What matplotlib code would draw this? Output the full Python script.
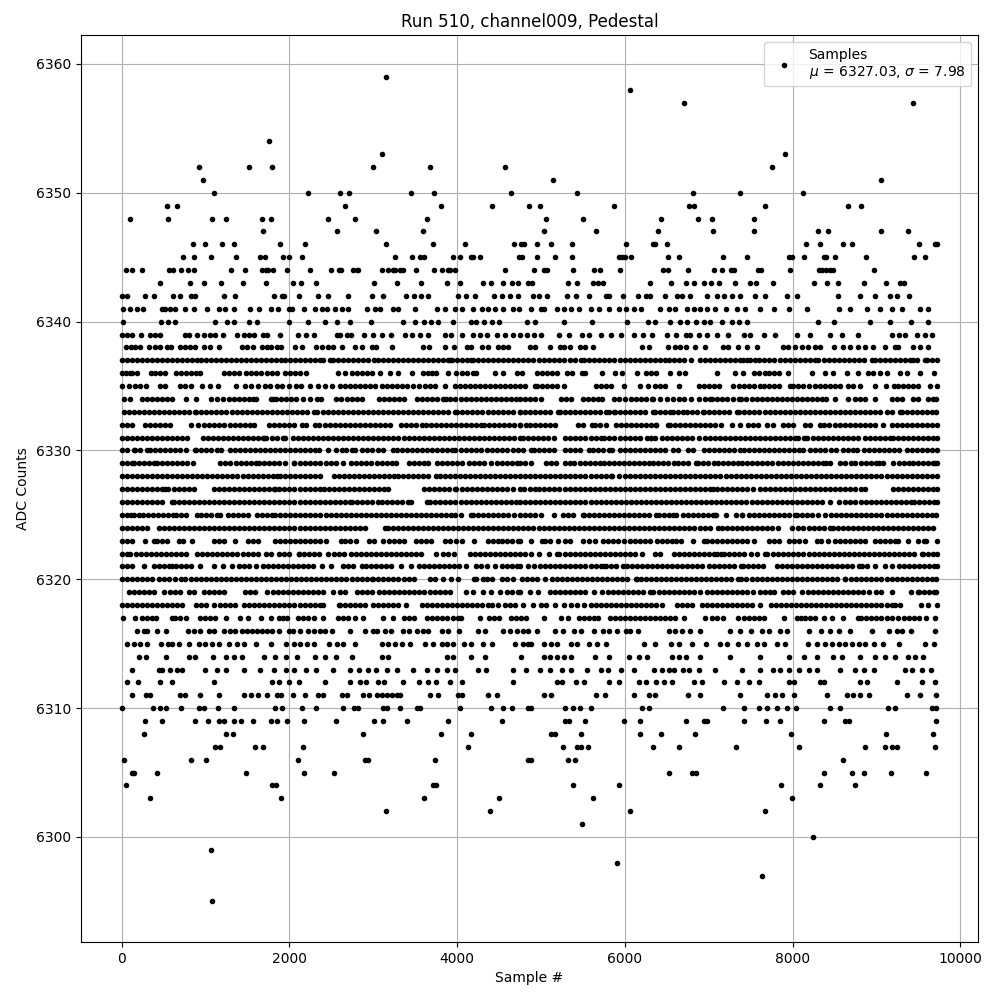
import matplotlib
matplotlib.use("Agg")
import matplotlib.pyplot as plt

# ADC values, one list of sample numbers per count level

s6359 = [3156]
s6358 = [6060]
s6357 = [6705, 9434]
s6354 = [1751]
s6353 = [3108, 7906]
s6352 = [917, 1513, 1786, 3001, 3680, 4573, 7752]
s6351 = [965, 5142, 9049]
s6350 = [1096, 2227, 2608, 2715, 3454, 3728, 4645, 5428, 6810, 7370, 8120]
s6349 = [536, 655, 2668, 3811, 4419, 4851, 4988, 5869, 6762, 6822, 7667, 8656, 8811]
s6348 = [95, 548, 1072, 1239, 1668, 1775, 2465, 2787, 3644, 5059, 5500, 6429, 6869, 7036, 7536]
s6347 = [1679, 2561, 3037, 3597, 5035, 5655, 6393, 7048, 7536, 8299, 8418, 9049, 9371]
s6346 = [846, 988, 1191, 1334, 1882, 2191, 3156, 3716, 4097, 4680, 4764, 4800, 4952, 5119, 5369, 6012,
         6333, 6357, 6500, 8156, 8322, 8596, 8704, 9513, 9704, 9728]
s6345 = [726, 857, 1060, 1358, 1644, 1703, 1918, 1989, 2144, 3263, 3466, 3561, 3609, 3954, 4038, 4169,
         4193, 4276, 4740, 4776, 4952, 5166, 5369, 5929, 5964, 6000, 6071, 6512, 6643, 7167, 7453, 7953,
         7989, 8132, 8370, 8394, 8501, 8870, 9442, 9573]
s6344 = [48, 119, 238, 560, 607, 703, 786, 857, 1298, 1465, 1668, 1715, 1739, 1798, 1965, 2239, 2501, 2596,
         2620, 2763, 2811, 2823, 3108, 3180, 3240, 3263, 3323, 3359, 3513, 3728, 3823, 3895, 3919, 3978,
         4573, 4916, 5035, 5071, 5381, 5631, 5702, 5940, 6452, 6512, 6750, 7060, 7155, 7262, 7298, 7584,
         7620, 7965, 8310, 8346, 8394, 8441, 8477, 8966]
s6343 = [453, 814, 977, 1179, 1441, 1715, 2037, 2132, 2322, 3013, 3287, 3573, 3883, 4037, 4303, 4407, 4550,
         4657, 4728, 4847, 4892, 5321, 5428, 5619, 5680, 5742, 6298, 6548, 6726, 6822, 6941, 7024, 7120,
         7318, 7489, 7560, 7763, 8251, 8406, 8537, 8846, 9108, 9275, 9323]
s6342 = [4, 64, 274, 381, 607, 691, 830, 877, 1215, 1346, 1810, 1909, 1929, 2108, 2346, 2465, 2704, 2982,
         3120, 3394, 3490, 3573, 3656, 4014, 4109, 4216, 4442, 4538, 4629, 4728, 4908, 4976, 5071, 5313,
         5416, 5571, 5770, 5810, 5976, 6155, 6246, 6298, 6484, 6623, 6683, 6782, 6981, 7100, 7179, 7278,
         7378, 7556, 7675, 7929, 8052, 8537, 8799, 8985, 9156, 9251, 9386]
s6341 = [12, 95, 183, 254, 480, 520, 580, 639, 758, 857, 1016, 1159, 1235, 1334, 1532, 1632, 1775, 1858,
         1989, 2029, 2168, 2307, 2386, 2446, 2545, 2624, 2704, 2922, 3021, 3081, 3240, 3299, 3498, 3756,
         3855, 3974, 4053, 4193, 4292, 4371, 4450, 4550, 4661, 4740, 4876, 4996, 5035, 5194, 5273, 5353,
         5452, 5591, 5690, 5809, 5929, 6008, 6107, 6187, 6417, 6524, 6603, 6742, 6822, 6901, 6981, 7080,
         7207, 7338, 7437, 7616, 7775, 7953, 8172, 8557, 8680, 8886, 9045, 9184, 9303, 9521, 9620]
s6340 = [12, 464, 548, 631, 1116, 1255, 1334, 1513, 1612, 1989, 2227, 2418, 2565, 2716, 2970, 3359, 3502,
         3609, 3692, 3772, 3954, 4161, 4228, 4323, 4411, 4502, 4828, 4928, 5273, 5603, 6028, 6274, 6357,
         6536, 6663, 6742, 6854, 6941, 7012, 7155, 7278, 7358, 7457, 8299, 8490, 8918, 9164, 9414, 9620]
s6339 = [4, 64, 123, 226, 333, 401, 453, 758, 798, 897, 977, 1056, 1116, 1207, 1374, 1453, 1513, 1572,
         1683, 1731, 1890, 2096, 2192, 2287, 2565, 2604, 2684, 2732, 2890, 3001, 3100, 3215, 3378, 3458,
         3557, 3656, 3851, 3930, 4053, 4193, 4272, 4351, 4470, 4570, 4669, 4748, 4828, 4916, 4996, 5214,
         5333, 5492, 5571, 5710, 5829, 5948, 6107, 6214, 6326, 6504, 6611, 6723, 6782, 6881, 6981, 7100,
         7227, 7417, 7497, 7655, 7794, 8052, 8211, 8449, 8588, 8775, 9184, 9263, 9343, 9482, 9581, 9660]
s6338 = [56, 111, 163, 214, 322, 401, 453, 540, 588, 699, 758, 818, 877, 985, 1048, 1155, 1433, 1493, 1564,
         1671, 1731, 1779, 1850, 1898, 2068, 2148, 2318, 2386, 2465, 2525, 2624, 2783, 2862, 2981, 3033,
         3220, 3597, 3668, 3855, 3962, 4113, 4161, 4292, 4371, 4490, 4550, 4609, 4873, 4932, 5103, 5230,
         5270, 5349, 5468, 5528, 5619, 6202, 6282, 6520, 6599, 6659, 6730, 6838, 6957, 7175, 7235, 7354,
         7453, 7580, 7890, 7949, 8029, 8108, 8187, 8267, 8326, 8497, 8604, 8684, 8783, 8862, 8962, 9101,
         9220, 9259, 9438, 9517, 9617]
s6337 = [0, 58, 120, 178, 240, 300, 358, 420, 480, 538, 600, 660, 718, 780, 840, 900, 940, 1000, 1060, 1120,
         1178, 1240, 1300, 1360, 1418, 1480, 1540, 1600, 1658, 1720, 1780, 1840, 1898, 1950, 2010, 2070, 2130,
         2190, 2250, 2310, 2360, 2400, 2480, 2520, 2580, 2640, 2700, 2760, 2820, 2880, 2940, 3010, 3050, 3110,
         3170, 3230, 3290, 3350, 3410, 3470, 3530, 3590, 3650, 3710, 3770, 3830, 3890, 3920, 3940, 4000, 4060,
         4120, 4160, 4190, 4250, 4310, 4370, 4430, 4490, 4550, 4610, 4670, 4730, 4790, 4850, 4910, 4970, 5030,
         5090, 5150, 5210, 5270, 5349, 5400, 5480, 5516, 5576, 5636, 5696, 5756, 5816, 5876, 5936, 5996, 6056,
         6116, 6176, 6236, 6296, 6356, 6416, 6476, 6528, 6588, 6648, 6708, 6790, 6890, 6950, 7010, 7070, 7130,
         7190, 7250, 7310, 7374, 7405, 7453, 7493, 7552, 7604, 7664, 7724, 7784, 7844, 7904, 7964, 8024, 8084,
         8144, 8204, 8267, 8306, 8374, 8437, 8497, 8557, 8617, 8677, 8737, 8797, 8857, 8942, 8981, 9041, 9101,
         9161, 9221, 9281, 9341, 9401, 9438, 9478, 9577, 9605, 9665, 9728]
s6336 = [0, 56, 95, 124, 183, 345, 400, 460, 520, 650, 710, 770, 830, 885, 937, 1223, 1280, 1340, 1400, 1480,
         1540, 1600, 1660, 1730, 1790, 1855, 1950, 2006, 2068, 2130, 2200, 2580, 2664, 2745, 2800, 2860, 2920,
         2980, 3080, 3201, 3300, 3465, 3590, 3650, 3695, 3750, 3890, 3990, 4060, 4120, 4190, 4230, 4455, 4550,
         4710, 4773, 4953, 5013, 5073, 5133, 5193, 5310, 5370, 5487, 5527, 5726, 5885, 5963, 6143, 6253, 6314,
         6367, 6540, 6640, 6719, 7095, 7314, 7406, 7545, 7605, 7670, 7720, 7780, 7840, 7948, 8227, 8386, 8476,
         8643, 8783, 8900, 8960, 9040, 9120, 9280, 9370, 9518, 9689]
s6335 = [4, 83, 163, 222, 284, 453, 520, 691, 758, 830, 953, 1056, 1143, 1358, 1473, 1540, 1624, 1711,
         1770, 1850, 1910, 2000, 2080, 2142, 2250, 2336, 2420, 2510, 2604, 2664, 2724, 2784, 2844, 2904, 2964,
         3024, 3100, 3160, 3220, 3280, 3340, 3400, 3470, 3550, 3620, 3680, 3735, 3855, 3975, 4035, 4095, 4155,
         4215, 4275, 4335, 4395, 4455, 4515, 4575, 4635, 4695, 4748, 4813, 4931, 4952, 5012, 5072, 5132, 5192,
         5268, 5658, 5718, 5778, 5838, 5984, 6180, 6270, 6361, 6420, 6480, 6640, 6880, 6940, 7000, 7060, 7122,
         7295, 7355, 7415, 7475, 7535, 7612, 7660, 7720, 7780, 7840, 7968, 8000, 8060, 8127, 8200, 8265, 8325,
         8385, 8445, 8505, 8565, 8664, 8723, 8800, 8980, 9115, 9205, 9260, 9320, 9380, 9440, 9500, 9635, 9722]
s6334 = [24, 95, 242, 302, 362, 422, 482, 542, 602, 770, 890, 1064, 1130, 1210, 1275, 1340, 1400, 1460, 1520,
         1563, 1601, 1780, 1840, 1900, 1803, 1960, 2020, 2080, 2160, 2250, 2330, 2382, 2553, 2616, 2690, 2750,
         2810, 2862, 3070, 3130, 3190, 3250, 3310, 3370, 3515, 3575, 3635, 3695, 3760, 3830, 3870, 3920, 3980,
         4040, 4100, 4160, 4220, 4280, 4340, 4400, 4460, 4520, 4580, 4640, 4700, 4750, 4813, 4873, 4933, 5000,
         5240, 5300, 5360, 5500, 5560, 5620, 5680, 5732, 5865, 5931, 6000, 6070, 6130, 6190, 6250, 6320, 6340,
         6420, 6500, 6570, 6640, 6700, 6790, 6880, 6950, 7010, 7040, 7100, 7160, 7220, 7290, 7360, 7390, 7450,
         7510, 7570, 7630, 7690, 7750, 7810, 7870, 7930, 7998, 8050, 8110, 8170, 8230, 8290, 8350, 8400, 8505,
         8662, 8740, 8800, 8860, 8985, 9190, 9250, 9310, 9430, 9490, 9610, 9670, 9716]
s6333 = [24, 84, 144, 204, 264, 324, 384, 444, 504, 564, 624, 684, 744, 804, 877, 889, 949, 1009, 1069, 1129,
         1189, 1249, 1309, 1369, 1429, 1489, 1549, 1609, 1669, 1729, 1789, 1849, 1909, 1969, 2029, 2089, 2149,
         2209, 2287, 2334, 2394, 2454, 2514, 2574, 2634, 2694, 2754, 2814, 2874, 2934, 2994, 3054, 3114, 3174,
         3234, 3294, 3354, 3414, 3474, 3534, 3594, 3654, 3714, 3774, 3834, 3894, 3974, 4002, 4062, 4122, 4182,
         4242, 4302, 4362, 4422, 4482, 4542, 4602, 4662, 4748, 4753, 4813, 4873, 4933, 4983, 5051, 5111, 5198,
         5229, 5289, 5349, 5409, 5469, 5529, 5589, 5649, 5709, 5777, 5805, 5865, 5885, 5945, 6005, 6065, 6125,
         6185, 6245, 6333, 6361, 6421, 6481, 6540, 6571, 6639, 6690, 6738, 6798, 6858, 6929, 6944, 7004, 7064,
         7124, 7184, 7244, 7334, 7365, 7425, 7485, 7545, 7605, 7665, 7725, 7785, 7845, 7905, 7965, 8025, 8085,
         8145, 8205, 8265, 8325, 8385, 8445, 8505, 8565, 8625, 8685, 8745, 8805, 8865, 8925, 8985, 9041, 9120,
         9180, 9279, 9299, 9359, 9419, 9479, 9539, 9599, 9659, 9716]
s6332 = [4, 64, 124, 282, 332, 392, 452, 512, 577, 820, 905, 985, 1045, 1105, 1165, 1225, 1285, 1345, 1405,
         1465, 1525, 1577, 1750, 1810, 1870, 1930, 1990, 2050, 2148, 2200, 2300, 2358, 2418, 2478, 2538, 2598,
         2658, 2718, 2778, 2838, 2898, 2958, 3018, 3078, 3138, 3200, 3330, 3390, 3450, 3510, 3575, 3625, 3685,
         3745, 3805, 3865, 3925, 3985, 4045, 4105, 4165, 4225, 4283, 4315, 4375, 4435, 4495, 4555, 4615, 4675,
         4748, 4753, 4823, 4872, 4932, 4992, 5052, 5112, 5168, 5436, 5496, 5603, 5646, 5706, 5777, 5896, 5956,
         6016, 6076, 6136, 6196, 6256, 6316, 6371, 6373, 6509, 6540, 6600, 6660, 6720, 6780, 6840, 6900, 6960,
         7020, 7080, 7146, 7274, 7374, 7472, 7532, 7592, 7690, 7770, 7890, 7950, 8010, 8146, 8206, 8326, 8380,
         8440, 8500, 8560, 8620, 8680, 8740, 8800, 8860, 8920, 8980, 9080, 9180, 9240, 9300, 9360, 9420, 9480,
         9540, 9600, 9660, 9720]
s6331 = [0, 60, 120, 180, 240, 300, 360, 420, 480, 540, 600, 660, 720, 780, 970, 1030, 1090, 1150, 1210, 1270,
         1330, 1390, 1450, 1510, 1570, 1630, 1690, 1692, 1720, 1790, 1850, 1920, 1950, 2040, 2100, 2160, 2220,
         2280, 2340, 2400, 2460, 2520, 2580, 2640, 2700, 2760, 2820, 2880, 2940, 3000, 3060, 3120, 3180, 3240,
         3300, 3360, 3420, 3480, 3540, 3600, 3660, 3720, 3780, 3840, 3900, 3960, 4020, 4080, 4140, 4200, 4260,
         4320, 4380, 4440, 4500, 4560, 4620, 4680, 4748, 4790, 4850, 4900, 4960, 5020, 5080, 5160, 5290, 5350,
         5410, 5470, 5530, 5590, 5650, 5710, 5750, 5810, 5870, 5945, 6003, 6063, 6123, 6183, 6309, 6269, 6309,
         6361, 6441, 6501, 6561, 6621, 6681, 6743, 6800, 6880, 6950, 7010, 7070, 7130, 7190, 7250, 7310, 7370,
         7430, 7490, 7550, 7610, 7670, 7730, 7790, 7850, 7910, 7970, 8030, 8070, 8140, 8170, 8240, 8300, 8360,
         8420, 8480, 8540, 8600, 8660, 8720, 8780, 8860, 8920, 8980, 9040, 9100, 9160, 9200, 9260, 9320, 9380,
         9440, 9500, 9560, 9620, 9680, 9727]
s6330 = [4, 64, 143, 163, 222, 300, 340, 400, 460, 520, 580, 640, 700, 770, 870, 890, 950, 1010, 1070, 1130,
         1183, 1290, 1350, 1410, 1470, 1530, 1590, 1650, 1710, 1770, 1830, 1890, 1950, 2010, 2070, 2130, 2190,
         2250, 2310, 2350, 2456, 2553, 2624, 2680, 2740, 2784, 2870, 2930, 2990, 3050, 3110, 3230, 3280, 3340,
         3400, 3460, 3520, 3580, 3640, 3700, 3760, 3820, 3880, 3940, 3970, 4040, 4100, 4160, 4230, 4290, 4350,
         4410, 4470, 4530, 4590, 4660, 4720, 4790, 4880, 4920, 4980, 5040, 5100, 5160, 5290, 5340, 5400,
         5470, 5570, 5620, 5680, 5740, 5810, 5850, 5940, 6000, 6060, 6120, 6180, 6240, 6300, 6360, 6420, 6480,
         6570, 6630, 6750, 6810, 6940, 7000, 7060, 7120, 7180, 7240, 7300, 7370, 7420, 7480, 7540, 7600, 7660,
         7720, 7780, 7840, 7900, 7960, 8020, 8080, 8130, 8210, 8270, 8330, 8390, 8460, 8520, 8600, 8660, 8720,
         8770, 8850, 8910, 8970, 9030, 9090, 9150, 9210, 9270, 9360, 9420, 9480, 9540, 9600, 9660, 9720]
s6329 = [0, 60, 120, 150, 210, 270, 330, 385, 420, 480, 540, 600, 660, 720, 780, 850, 1175, 1235, 1295, 1360,
         1420, 1480, 1540, 1600, 1640, 1700, 1760, 1820, 1880, 1950, 2050, 2052, 2120, 2185, 2250, 2310, 2370,
         2430, 2490, 2550, 2640, 2730, 2790, 2850, 2910, 2970, 3040, 3100, 3160, 3220, 3272, 3420, 3480, 3540,
         3600, 3650, 3760, 3820, 3880, 3940, 4000, 4060, 4140, 4200, 4260, 4320, 4400, 4470, 4530, 4590, 4650,
         4710, 4750, 4810, 4880, 5060, 5120, 5180, 5280, 5340, 5390, 5460, 5520, 5580, 5640, 5700, 5750, 5810,
         5870, 5930, 5990, 6050, 6110, 6170, 6230, 6282, 6330, 6390, 6450, 6510, 6590, 6630, 6690, 6750, 6850,
         6870, 6930, 6990, 7060, 7110, 7170, 7230, 7290, 7350, 7400, 7460, 7520, 7580, 7640, 7700, 7760, 7820,
         7880, 7940, 8000, 8060, 8120, 8180, 8240, 8300, 8360, 8397, 8445, 8565, 8625, 8693, 8750, 8810, 8870,
         8930, 8990, 9033, 9080, 9200, 9270, 9330, 9390, 9440, 9500, 9560, 9620, 9680, 9700, 9727]
s6328 = [0, 60, 120, 180, 240, 300, 360, 420, 480, 540, 600, 660, 720, 780, 840, 900, 960, 1020, 1080, 1140,
         1200, 1260, 1320, 1380, 1440, 1500, 1560, 1620, 1680, 1740, 1800, 1850, 1890, 1950, 2010, 2070, 2130,
         2190, 2250, 2310, 2370, 2530, 2590, 2650, 2710, 2770, 2830, 2890, 2950, 3010, 3070, 3130, 3190, 3250,
         3290, 3350, 3410, 3470, 3530, 3590, 3650, 3750, 3790, 3850, 3910, 3970, 4030, 4090, 4150, 4210, 4270,
         4330, 4390, 4450, 4510, 4570, 4630, 4690, 4750, 4810, 4870, 4930, 4990, 5050, 5110, 5170, 5230, 5290,
         5350, 5410, 5470, 5530, 5590, 5650, 5710, 5770, 5830, 5845, 5930, 6000, 6060, 6120, 6180, 6240, 6300,
         6360, 6420, 6480, 6540, 6600, 6660, 6720, 6780, 6840, 6900, 6960, 7020, 7080, 7140, 7200, 7260, 7320,
         7380, 7440, 7500, 7560, 7620, 7680, 7740, 7800, 7860, 7920, 7980, 8040, 8100, 8160, 8220, 8280, 8340,
         8400, 8460, 8520, 8580, 8640, 8700, 8760, 8820, 8880, 8940, 9000, 9060, 9120, 9180, 9240, 9300, 9360,
         9420, 9480, 9540, 9600, 9660, 9727]
s6327 = [0, 60, 120, 180, 240, 300, 360, 420, 480, 520, 548, 620, 680, 740, 800, 860, 1100, 1160, 1220, 1280,
         1340, 1400, 1460, 1520, 1580, 1640, 1700, 1760, 1810, 1830, 1880, 1940, 2000, 2060, 2120, 2180, 2240,
         2300, 2360, 2410, 2470, 2530, 2590, 2650, 2710, 2770, 2830, 2890, 2950, 3010, 3070, 3130, 3180, 3600,
         3660, 3720, 3780, 3840, 3900, 3970, 3990, 4060, 4120, 4180, 4240, 4300, 4360, 4420, 4480, 4540, 4600,
         4660, 4750, 4800, 4864, 4932, 4980, 5040, 5100, 5160, 5220, 5280, 5340, 5400, 5460, 5520, 5580, 5640,
         5700, 5760, 5820, 5880, 5940, 6000, 6060, 6120, 6180, 6240, 6300, 6360, 6420, 6480, 6540, 6600, 6660,
         6720, 6780, 6840, 6900, 6960, 7020, 7050, 7100, 7160, 7220, 7280, 7340, 7400, 7460, 7530, 7610, 7670,
         7730, 7790, 7850, 7910, 7970, 8030, 8090, 8150, 8210, 8270, 8330, 8390, 8450, 8510, 8570, 8630, 8690,
         8750, 8810, 8860, 9200, 9260, 9320, 9380, 9440, 9500, 9560, 9620, 9680, 9727]
s6326 = [0, 60, 120, 180, 240, 300, 360, 420, 480, 600, 620, 680, 740, 800, 860, 920, 980, 1040, 1100, 1160,
         1220, 1280, 1340, 1400, 1460, 1520, 1580, 1640, 1700, 1760, 1820, 1880, 1940, 2000, 2060, 2120, 2180,
         2240, 2300, 2360, 2420, 2480, 2540, 2600, 2660, 2720, 2750, 2810, 2870, 2930, 2990, 3060, 3100, 3160,
         3220, 3280, 3340, 3410, 3450, 3640, 3680, 3740, 3800, 3860, 3920, 3980, 4040, 4100, 4160, 4220, 4280,
         4340, 4400, 4460, 4520, 4580, 4640, 4700, 4748, 4810, 4870, 4930, 4990, 5050, 5110, 5170, 5230, 5290,
         5350, 5410, 5470, 5530, 5590, 5650, 5710, 5770, 5830, 5890, 5950, 6010, 6070, 6130, 6190, 6250, 6310,
         6370, 6430, 6490, 6550, 6610, 6670, 6730, 6790, 6850, 6910, 6970, 7030, 7090, 7150, 7210, 7270, 7330,
         7390, 7450, 7510, 7570, 7630, 7690, 7750, 7810, 7870, 7930, 7990, 8050, 8110, 8170, 8230, 8290, 8350,
         8450, 8550, 8620, 8680, 8750, 8810, 8870, 8930, 8990, 9050, 9110, 9170, 9230, 9290, 9350, 9410, 9450,
         9510, 9570, 9630, 9690, 9727]
s6325 = [0, 60, 111, 143, 203, 254, 310, 370, 430, 490, 550, 610, 650, 710, 770, 900, 950, 1010, 1070, 1136,
         1172, 1270, 1330, 1390, 1450, 1503, 1610, 1670, 1730, 1790, 1830, 1890, 1950, 2010, 2070, 2130, 2190,
         2250, 2310, 2370, 2430, 2490, 2550, 2610, 2670, 2730, 2790, 2850, 2910, 2970, 3030, 3090, 3150, 3210,
         3270, 3330, 3390, 3450, 3510, 3570, 3630, 3690, 3750, 3810, 3870, 3930, 3980, 4040, 4160, 4192, 4252,
         4312, 4372, 4432, 4492, 4552, 4612, 4672, 4748, 4808, 4868, 4928, 5000, 5150, 5260, 5320, 5380, 5500,
         5510, 5570, 5630, 5690, 5750, 5810, 5870, 5930, 5990, 6050, 6110, 6170, 6230, 6290, 6370, 6410, 6470,
         6530, 6578, 6610, 6690, 6750, 6810, 6870, 6930, 6990, 7050, 7076, 7090, 7210, 7330, 7396, 7400, 7480,
         7540, 7600, 7660, 7720, 7780, 7840, 7900, 7960, 8030, 8050, 8110, 8170, 8230, 8300, 8390, 8460, 8520,
         8580, 8640, 8700, 8760, 8820, 8880, 8940, 9000, 9060, 9120, 9180, 9240, 9300, 9360, 9420, 9480, 9540,
         9600, 9660, 9710]
s6324 = [4, 64, 124, 184, 244, 300, 440, 500, 560, 620, 680, 740, 800, 860, 920, 980, 1040, 1100, 1160, 1220,
         1280, 1340, 1400, 1460, 1520, 1580, 1640, 1700, 1760, 1820, 1880, 1940, 2000, 2060, 2120, 2180, 2240,
         2300, 2360, 2420, 2480, 2540, 2600, 2660, 2720, 2780, 2840, 2900, 3140, 3170, 3230, 3290, 3350, 3410,
         3470, 3530, 3590, 3650, 3710, 3770, 3830, 3890, 3950, 4010, 4070, 4130, 4190, 4250, 4310, 4370, 4430,
         4490, 4550, 4610, 4670, 4730, 4790, 4850, 4910, 4970, 5030, 5090, 5150, 5210, 5270, 5330, 5390, 5450,
         5510, 5570, 5630, 5690, 5750, 5810, 5870, 5930, 5990, 6050, 6110, 6170, 6230, 6290, 6350, 6410, 6470,
         6530, 6590, 6650, 6710, 6770, 6830, 6890, 6950, 7010, 7115, 7160, 7220, 7280, 7340, 7400, 7460, 7520,
         7580, 7640, 7700, 7760, 7820, 7989, 8070, 8130, 8190, 8250, 8310, 8370, 8450, 8480, 8540, 8600,
         8660, 8720, 8780, 8840, 8900, 8960, 9020, 9080, 9140, 9200, 9260, 9320, 9380, 9440, 9500, 9560, 9620,
         9675]
s6323 = [4, 60, 120, 280, 380, 420, 480, 540, 680, 730, 840, 1100, 1160, 1220, 1350, 1510, 1570, 1630, 1830,
         1890, 1950, 2010, 2070, 2130, 2190, 2250, 2310, 2370, 2430, 2620, 2660, 2720, 2790, 2950, 3010, 3120,
         3185, 3245, 3305, 3370, 3510, 3570, 3630, 3690, 3860, 3920, 3985, 4060, 4200, 4370, 4430, 4490, 4530,
         4590, 4650, 4720, 4753, 4880, 5011, 5051, 5110, 5198, 5282, 5350, 5500, 5570, 5640, 5740, 5800, 5860,
         5920, 5990, 6060, 6120, 6180, 6240, 6300, 6380, 6440, 6500, 6560, 6610, 6670, 6812, 6940, 6980,
         7040, 7100, 7160, 7220, 7280, 7340, 7400, 7460, 7540, 7720, 7780, 7840, 7960, 8020, 8080, 8150,
         8294, 8340, 8423, 8500, 8560, 8620, 8680, 8740, 8800, 8860, 8980, 9040, 9100, 9160, 9220, 9260, 9380,
         9500, 9570, 9590, 9720]
s6322 = [0, 64, 103, 165, 225, 285, 345, 405, 465, 525, 585, 645, 705, 765, 900, 960, 1020, 1080, 1140, 1200,
         1260, 1320, 1380, 1440, 1500, 1560, 1620, 1720, 1775, 1880, 1940, 2000, 2108, 2110, 2170, 2230, 2290,
         2350, 2460, 2530, 2590, 2650, 2730, 2790, 2850, 2910, 2970, 3030, 3090, 3150, 3210, 3270, 3330, 3390,
         3450, 3510, 3570, 3750, 3830, 3890, 3960, 4150, 4210, 4270, 4330, 4390, 4450, 4510, 4570, 4630, 4690,
         4748, 4810, 4880, 4980, 5100, 5190, 5220, 5280, 5340, 5400, 5460, 5520, 5580, 5640, 5700, 5760, 5820,
         5880, 5940, 6000, 6060, 6120, 6200, 6360, 6420, 6580, 6640, 6700, 6760, 6820, 6880, 6940, 7000, 7060,
         7100, 7150, 7180, 7240, 7300, 7360, 7420, 7500, 7570, 7670, 7700, 7770, 7830, 7890, 7950, 8010, 8070,
         8130, 8190, 8250, 8310, 8370, 8430, 8490, 8550, 8610, 8670, 8730, 8790, 8850, 8910, 8970, 9030, 9090,
         9150, 9210, 9270, 9330, 9390, 9450, 9540, 9560, 9620, 9680, 9727]
s6321 = [4, 64, 127, 262, 380, 440, 500, 560, 600, 650, 710, 770, 830, 930, 1100, 1210, 1320, 1400, 1460, 1520,
         1600, 1680, 1740, 1800, 1860, 1920, 1980, 2040, 2100, 2160, 2220, 2280, 2390, 2500, 2640, 2700, 2760,
         2860, 2910, 2970, 3030, 3090, 3150, 3210, 3330, 3450, 3540, 3600, 3660, 3720, 3780, 3840, 3900, 3960,
         4020, 4100, 4220, 4290, 4360, 4450, 4530, 4590, 4650, 4710, 4753, 4850, 4920, 4990, 5050, 5110, 5170,
         5230, 5290, 5350, 5410, 5470, 5530, 5590, 5650, 5710, 5746, 5780, 5840, 5900, 5980, 6020, 6080, 6140,
         6200, 6260, 6320, 6380, 6440, 6500, 6560, 6620, 6680, 6740, 6800, 6860, 6920, 7000, 7060, 7120, 7180,
         7240, 7300, 7380, 7410, 7470, 7530, 7590, 7650, 7810, 7870, 7930, 7990, 8050, 8110, 8170, 8230, 8290,
         8350, 8410, 8470, 8530, 8590, 8650, 8710, 8790, 8830, 8890, 8985, 9100, 9190, 9270, 9330, 9390, 9450,
         9510, 9570, 9630, 9690, 9727]
s6320 = [4, 60, 120, 180, 240, 300, 360, 440, 500, 560, 640, 710, 760, 820, 880, 940, 1000, 1060, 1120, 1180,
         1240, 1300, 1360, 1420, 1480, 1540, 1600, 1660, 1720, 1780, 1840, 1900, 1960, 2020, 2080, 2140, 2200,
         2260, 2320, 2380, 2440, 2500, 2560, 2620, 2680, 2740, 2800, 2860, 2920, 2990, 3000, 3060, 3120, 3180,
         3240, 3300, 3360, 3420, 3480, 3680, 3740, 3830, 3930, 4010, 4200, 4230, 4310, 4360, 4420, 4540, 4600,
         4660, 4773, 4830, 4890, 4950, 5050, 5130, 5190, 5250, 5310, 5370, 5430, 5490, 5550, 5610, 5670, 5730,
         5790, 5850, 5910, 5970, 6030, 6130, 6142, 6190, 6250, 6310, 6370, 6430, 6490, 6550, 6610, 6670, 6730,
         6790, 6850, 6910, 6970, 7030, 7090, 7150, 7210, 7270, 7343, 7390, 7450, 7510, 7570, 7630, 7690, 7750,
         7810, 7870, 7930, 7990, 8050, 8110, 8170, 8230, 8290, 8350, 8410, 8470, 8530, 8620, 8630, 8700, 8760,
         8820, 8880, 8940, 9000, 9060, 9120, 9180, 9240, 9300, 9360, 9420, 9480, 9540, 9600, 9660, 9716]
s6319 = [83, 143, 203, 263, 323, 383, 500, 580, 640, 700, 800, 860, 980, 1040, 1100, 1160, 1220, 1470, 1530, 1590,
         1730, 1800, 1860, 1920, 1980, 2040, 2100, 2160, 2220, 2280, 2340, 2400, 2523, 2600, 2664, 2810, 2870,
         2930, 2990, 3070, 3130, 3190, 3250, 3310, 3370, 3430, 3490, 3550, 3610, 3670, 3730, 3790, 3850, 3910,
         4110, 4190, 4310, 4400, 4510, 4600, 4650, 4730, 4753, 4872, 4960, 5110, 5170, 5230, 5290, 5350, 5410,
         5470, 5530, 5630, 5730, 5800, 5860, 5920, 5980, 6040, 6100, 6160, 6220, 6300, 6340, 6410, 6470,
         6530, 6590, 6650, 6710, 6770, 6830, 6900, 6980, 7040, 7100, 7160, 7220, 7280, 7340, 7400, 7460, 7530,
         7610, 7670, 7730, 7780, 7880, 7940, 8000, 8110, 8180, 8240, 8300, 8360, 8420, 8480, 8540, 8600, 8660,
         8720, 8780, 8842, 8910, 9000, 9060, 9190, 9410, 9490, 9510, 9570, 9630, 9690, 9716]
s6318 = [0, 60, 120, 180, 240, 300, 360, 420, 480, 540, 600, 660, 720, 880, 940, 1010, 1100, 1170, 1230, 1290, 1350,
         1460, 1520, 1580, 1640, 1700, 1760, 1820, 1880, 1940, 2000, 2060, 2120, 2180, 2240, 2300, 2360, 2400,
         2590, 2600, 2660, 2720, 2780, 2840, 2900, 3000, 3060, 3120, 3180, 3240, 3300, 3390, 3580, 3640,
         3700, 3760, 3820, 3880, 3940, 4000, 4060, 4120, 4180, 4240, 4300, 4368, 4420, 4490, 4570, 4630, 4690,
         4785, 4904, 5000, 5060, 5170, 5270, 5360, 5430, 5515, 5590, 5650, 5710, 5770, 5830, 5890, 5950, 6010,
         6070, 6130, 6190, 6250, 6310, 6370, 6440, 6620, 6680, 6740, 6800, 6920, 6980, 7040, 7100, 7160, 7220,
         7280, 7340, 7400, 7460, 7520, 7610, 7740, 7800, 7860, 7920, 7980, 8040, 8100, 8160, 8220, 8280, 8340,
         8400, 8460, 8520, 8580, 8640, 8700, 8760, 8820, 8880, 8940, 9000, 9060, 9120, 9180, 9220, 9283, 9530,
         9610, 9727]
s6317 = [16, 163, 242, 300, 360, 405, 600, 640, 700, 770, 930, 990, 1050, 1110, 1240, 1410, 1500, 1660, 1780, 1870,
         1920, 1975, 2100, 2160, 2220, 2290, 2400, 2580, 2640, 2700, 2780, 2880, 3120, 3240, 3360, 3420, 3480,
         3640, 3700, 3760, 3820, 3880, 3950, 4010, 4050, 4270, 4380, 4440, 4500, 4640, 4700, 4760, 4820, 5040,
         5240, 5320, 5450, 5510, 5570, 5630, 5680, 5820, 5880, 5940, 6000, 6060, 6120, 6180, 6240, 6300,
         6360, 6420, 6480, 6540, 6600, 6700, 6950, 7040, 7100, 7170, 7350, 7420, 7480, 7540, 7600, 7660,
         7900, 8050, 8100, 8150, 8210, 8270, 8380, 8470, 8600, 8780, 8820, 8880, 8940, 9000, 9060, 9120,
         9180, 9260, 9330, 9390, 9450, 9510, 9590, 9700]
s6316 = [179, 262, 302, 417, 532, 790, 857, 929, 1036, 1096, 1215, 1294, 1354, 1433, 1493, 1552, 1612, 1671, 1731,
         1791, 1870, 1989, 2048, 2120, 2227, 2287, 2366, 2426, 2505, 2716, 2906, 3001, 3049, 3144, 3208, 3359,
         3430, 3517, 3597, 3656, 3815, 3895, 4018, 4252, 4331, 4542, 4629, 4708, 4787, 4847, 4956, 5166, 5262,
         5393, 5472, 5631, 5742, 5809, 5909, 6008, 6056, 6155, 6524, 6603, 6683, 6782, 6893, 7258, 7370, 7505,
         7636, 7715, 7854, 7933, 8191, 8334, 8449, 8549, 8680, 8942, 9148, 9243, 9303, 9410, 9700]
s6315 = [64, 143, 214, 302, 464, 548, 599, 679, 798, 917, 996, 1076, 1155, 1274, 1374, 1461, 1600, 1779, 1953, 2049,
         2120, 2207, 2287, 2466, 2565, 2644, 2783, 3100, 3180, 3259, 3339, 3438, 3617, 3716, 3815, 3875, 3954,
         4081, 4161, 4312, 4411, 4689, 4787, 4847, 4876, 5035, 5115, 5194, 5353, 5432, 5571, 5663, 5770, 6226,
         6365, 6544, 6643, 6802, 6969, 7139, 7219, 7346, 7457, 7576, 7655, 7814, 7914, 8180, 8287, 8390, 8469,
         8549, 8628, 8708, 8787, 8866, 8966, 9073, 9263, 9581, 9692]
s6314 = [202, 294, 532, 798, 877, 1084, 1243, 1334, 1433, 1691, 1830, 1953, 2088, 2307, 2426, 2549, 2743, 3100, 3180,
         3875, 3954, 4161, 4331, 4756, 5035, 5107, 5186, 5273, 5361, 5643, 5809, 6048, 6167, 6266, 6564, 6643,
         6723, 6893, 7258, 7608, 7953, 8132, 8287, 8477, 8588, 8807, 8985, 9105, 9224, 9382, 9462, 9561]
s6313 = [119, 441, 480, 572, 659, 719, 989, 1131, 1239, 1453, 1652, 1818, 1961, 2060, 2199, 2322, 2525, 2716, 2835,
         2942, 3033, 3160, 3279, 3478, 3637, 3756, 3875, 3978, 4252, 4343, 4661, 4819, 4988, 5107, 5254, 5353,
         5551, 5710, 5798, 5948, 6107, 6345, 6445, 6524, 6584, 6691, 6762, 6881, 7072, 7397, 7616, 7767, 7854,
         7953, 8072, 8191, 8287, 8561, 8739, 8846, 8966, 9343, 9422, 9541, 9648]
s6312 = [60, 191, 453, 595, 1096, 1787, 1870, 1989, 2108, 2418, 2727, 2846, 2918, 3061, 3128, 3359, 3549, 3656, 3752,
         3918, 4053, 4669, 5194, 5254, 5416, 5512, 5813, 5929, 6167, 6250, 6377, 6464, 6564, 6822, 6917, 7179,
         7338, 7477, 7596, 7953, 8013, 8330, 8370, 8799, 8886, 9243, 9549, 9704]
s6311 = [119, 286, 341, 691, 754, 929, 1155, 1453, 1544, 1620, 1727, 1850, 1902, 2037, 2180, 2338, 2394, 2632, 2692,
         2882, 2954, 3041, 3100, 3160, 3219, 3279, 3319, 3676, 3776, 4014, 4057, 4371, 4470, 5035, 5123, 5651,
         5758, 6107, 6286, 6365, 6750, 6893, 7378, 7695, 7794, 7874, 8013, 8410, 8648, 8719, 8799, 8906, 9362,
         9521, 9712]
s6310 = [0, 369, 453, 524, 711, 917, 977, 1143, 1334, 1822, 1906, 2144, 2311, 2644, 2775, 2823, 3112, 3160, 3323,
         3517, 3557, 4037, 4407, 4542, 4649, 4847, 4876, 5285, 5381, 5468, 5591, 6202, 6286, 7167, 7417, 7596,
         7691, 7810, 7929, 8037, 8442, 8569, 9136, 9216, 9660, 9712]
s6309 = [274, 476, 869, 1024, 1155, 1215, 1334, 1417, 1560, 1775, 1846, 1965, 2168, 2549, 3013, 3120, 3406, 3895,
         4530, 5285, 5333, 5524, 5988, 6179, 6727, 6941, 6981, 7417, 7679, 7846, 8370, 8628, 8668, 9716]
s6308 = [262, 1247, 1322, 2882, 3811, 4169, 5123, 5162, 5476, 6179, 6429, 6834, 7977, 9108, 9680]
s6307 = [1108, 1175, 1584, 1679, 2156, 4133, 5262, 5432, 5472, 5559, 6333, 6643, 7322, 8072, 8858, 9097, 9180, 9243,
         9704]
s6306 = [24, 822, 1000, 2096, 2902, 2942, 3740, 4847, 4876, 5321, 5408, 8596]
s6305 = [123, 151, 417, 1477, 2168, 2537, 6524, 6802, 6850, 8370, 8704, 8846, 9168, 9585]
s6304 = [48, 1790, 1838, 3716, 3748, 5381, 5929, 7858, 8322, 8739]
s6303 = [333, 1894, 3609, 4502, 5619, 7989]
s6302 = [3156, 4395, 6060, 7667]
s6301 = [5488]
s6300 = [8239]
s6299 = [1060]
s6298 = [5905]
s6297 = [7632]
s6295 = [1072]

adc_levels = [6359, 6358, 6357, 6354, 6353, 6352, 6351, 6350, 6349, 6348, 6347, 6346, 6345, 6344, 6343, 6342,
              6341, 6340, 6339, 6338, 6337, 6336, 6335, 6334, 6333, 6332, 6331, 6330, 6329, 6328, 6327, 6326,
              6325, 6324, 6323, 6322, 6321, 6320, 6319, 6318, 6317, 6316, 6315, 6314, 6313, 6312, 6311, 6310,
              6309, 6308, 6307, 6306, 6305, 6304, 6303, 6302, 6301, 6300, 6299, 6298, 6297, 6295]
sample_rows = [s6359, s6358, s6357, s6354, s6353, s6352, s6351, s6350, s6349, s6348, s6347, s6346, s6345, s6344,
               s6343, s6342, s6341, s6340, s6339, s6338, s6337, s6336, s6335, s6334, s6333, s6332, s6331, s6330,
               s6329, s6328, s6327, s6326, s6325, s6324, s6323, s6322, s6321, s6320, s6319, s6318, s6317, s6316,
               s6315, s6314, s6313, s6312, s6311, s6310, s6309, s6308, s6307, s6306, s6305, s6304, s6303, s6302,
               s6301, s6300, s6299, s6298, s6297, s6295]

sample_no = []
adc_counts = []
for level, row in zip(adc_levels, sample_rows):
    sample_no.extend(row)
    adc_counts.extend([level] * len(row))

fig, ax = plt.subplots(figsize=(10, 10))
ax.plot(sample_no, adc_counts, "k.", label="Samples\n$\\mu$ = 6327.03, $\\sigma$ = 7.98")
ax.set_title("Run 510, channel009, Pedestal")
ax.set_xlabel("Sample #")
ax.set_ylabel("ADC Counts")
ax.set_xlim(-486, 10211)
ax.set_ylim(6291.85, 6362.25)
ax.grid(True)
ax.legend(loc="upper right")
fig.subplots_adjust(left=0.081, right=0.978, top=0.965, bottom=0.058)
plt.savefig("out.png", dpi=100)
